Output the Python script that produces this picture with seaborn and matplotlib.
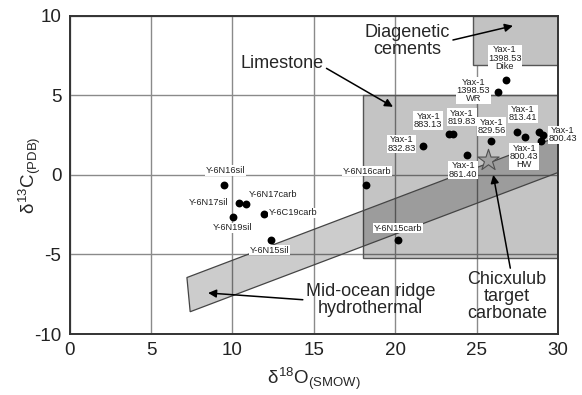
import matplotlib
matplotlib.use("Agg")
import matplotlib.pyplot as plt
from matplotlib.patches import Polygon, Rectangle
import seaborn as sns
import pandas as pd

# ---- data ----
d18O = [9.49, 10.41, 10.85, 10.01, 11.92, 12.37, 18.2, 20.18,
        26.78, 26.29, 23.3, 23.56, 21.7, 24.42, 25.9, 27.5, 27.98,
        28.85, 29.09, 28.93]
d13C = [-0.63, -1.74, -1.82, -2.62, -2.47, -4.09, -0.61, -4.09,
        5.97, 5.24, 2.58, 2.58, 1.84, 1.28, 2.1, 2.7, 2.39,
        2.72, 2.52, 2.1]

label_text = ["Y-6N16sil", "Y-6N17sil", "Y-6N17carb", "Y-6N19sil", "Y-6C19carb",
              "Y-6N15sil", "Y-6N16carb", "Y-6N15carb",
              "Yax-1\n1398.53\nDike", "Yax-1\n1398.53\nWR", "Yax-1\n883.13",
              "Yax-1\n819.83", "Yax-1\n829.56", "Yax-1\n813.41", "Yax-1\n800.43",
              "Yax-1\n800.43\nHW", "Yax-1\n832.83", "Yax-1\n861.40"]
label_x = [9.55, 8.56, 12.51, 10.01, 13.73, 12.26, 18.24, 20.18,
           26.74, 24.79, 22.03, 24.08, 25.92, 27.83, 30.3, 27.92, 20.39, 24.18]
label_y = [0.27, -1.74, -1.21, -3.33, -2.39, -4.72, 0.23, -3.35,
           7.34, 5.30, 3.42, 3.63, 3.04, 3.84, 2.52, 1.15, 1.95, 0.31]

star_x, star_y = [25.7], [0.94]

# fields
limestone_x, limestone_y = [18.0, 30.0], [-5.2, 5.0]
diag_x, diag_y = [24.75, 30.0], [6.9, 10.0]
band_x = [7.2, 30.0, 30.0, 7.4]
band_y = [-6.45, 2.4, 0.15, -8.6]

x_ticks = [0, 5, 10, 15, 20, 25, 30]
y_ticks = [-10, -5, 0, 5, 10]

sns.set_style("white")
plt.rcParams['font.family'] = ['Liberation Sans', 'DejaVu Sans']
plt.rcParams['mathtext.fontset'] = 'custom'
plt.rcParams['mathtext.rm'] = 'Liberation Sans'
plt.rcParams['mathtext.it'] = 'Liberation Sans'
plt.rcParams['axes.unicode_minus'] = False

fig = plt.figure(figsize=(5.82, 3.95), dpi=100)
ax = fig.add_axes([0.1198, 0.1544, 0.8390, 0.8056])
ax.set_xlim(0, 30)
ax.set_ylim(-10, 10)

ax.set_axisbelow(True)
ax.grid(True, which='major', color='#8a8a8a', linewidth=1.0)

# shaded fields
ax.add_patch(Rectangle((limestone_x[0], limestone_y[0]),
                       limestone_x[1] - limestone_x[0], limestone_y[1] - limestone_y[0],
                       facecolor=(0, 0, 0, 0.23), edgecolor='#555555', linewidth=1.0, zorder=1))
ax.add_patch(Polygon(list(zip(band_x, band_y)), closed=True,
                     facecolor=(0, 0, 0, 0.2), edgecolor='#444444', linewidth=0.9, zorder=1.1))
ax.add_patch(Rectangle((diag_x[0], diag_y[0]), diag_x[1] - diag_x[0], diag_y[1] - diag_y[0],
                       facecolor='#c2c2c2', edgecolor='#555555', linewidth=1.0, zorder=1.2))

# points
df = pd.DataFrame({"d18O": d18O, "d13C": d13C})
sns.scatterplot(data=df, x="d18O", y="d13C", ax=ax, color='black', s=32,
                edgecolor='black', linewidth=0, zorder=4, legend=False)
ax.scatter(star_x, star_y, marker='*', s=260, facecolor='#a0a0a0',
           edgecolor='#505050', linewidth=0.8, zorder=5)

# sample labels
for t, lx, ly in zip(label_text, label_x, label_y):
    ax.text(lx, ly, t, fontsize=6.7, ha='center', va='center', linespacing=0.9,
            color='#222222', zorder=6, clip_on=False,
            bbox=dict(facecolor='white', edgecolor='none', pad=0.5))

# field annotations
arrow = dict(arrowstyle='-|>', color='black', lw=1.1, mutation_scale=12, shrinkA=0, shrinkB=0)
fs = 13
ax.annotate("Diagenetic\ncements", xy=(27.23, 9.37), xytext=(20.72, 8.43),
            ha='center', va='center', fontsize=fs, linespacing=1.0,
            arrowprops=dict(arrow, relpos=(1.0, 0.5)), zorder=7)
ax.annotate("Limestone", xy=(19.86, 4.28), xytext=(13.02, 7.03),
            ha='center', va='center', fontsize=fs,
            arrowprops=dict(arrow, relpos=(1.0, 0.3)), zorder=7)
ax.annotate("Mid-ocean ridge\nhydrothermal", xy=(8.5, -7.42), xytext=(18.5, -7.86),
            ha='center', va='center', fontsize=fs, linespacing=1.0,
            arrowprops=dict(arrow, relpos=(0.0, 0.5)), zorder=7)
ax.annotate("Chicxulub\ntarget\ncarbonate", xy=(26.02, 0.0), xytext=(26.86, -7.67),
            ha='center', va='center', fontsize=fs, linespacing=1.0,
            arrowprops=dict(arrow, relpos=(0.55, 1.0)), zorder=7)

# axes styling
ax.set_xticks(x_ticks)
ax.set_yticks(y_ticks)
ax.set_xticks(range(0, 31), minor=True)
ax.set_yticks(range(-10, 11), minor=True)
ax.tick_params(axis='both', which='major', direction='out', length=4, width=1.2,
               labelsize=13.5, colors='#222222', pad=2)
ax.tick_params(axis='both', which='minor', direction='out', length=2.5, width=1.0,
               colors='#222222')
for s in ax.spines.values():
    s.set_color('#333333')
    s.set_linewidth(1.4)

ax.set_xlabel(r'$\delta^{18}$O$_{(SMOW)}$', fontsize=13.5)
ax.set_ylabel(r'$\delta^{13}$C$_{(PDB)}$', fontsize=13.5)
ax.xaxis.set_label_coords(0.5, -0.14)
ax.yaxis.set_label_coords(-0.082, 0.5)
ax.yaxis.label.set_va('center')
ax.xaxis.label.set_va('center')

fig.savefig("out.png", dpi=100)
